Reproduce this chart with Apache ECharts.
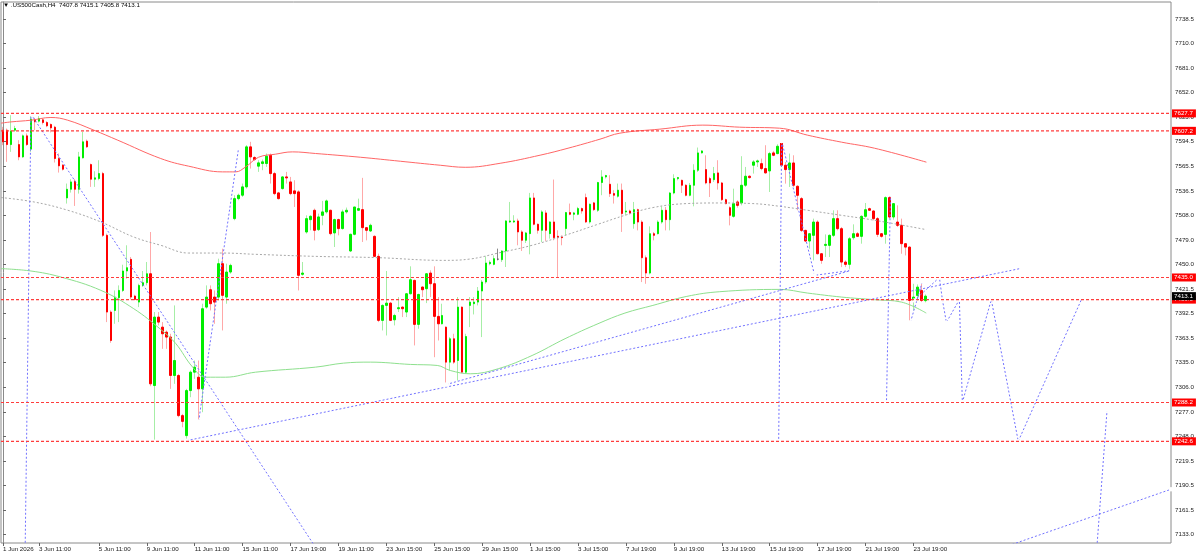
<!DOCTYPE html>
<html>
<head>
<meta charset="utf-8">
<script src="https://cdn.jsdelivr.net/npm/echarts@6.0.0/dist/echarts.min.js"></script>
<style>
html,body{margin:0;padding:0;background:#fff;}
#chart{width:1200px;height:555px;}
</style>
</head>
<body>
<div id="chart"></div>
<script>
// H4 candles, [open, close, low, high]
var ohlc = [
[7608.0,7594.3,7590.4,7611.9],[7608.0,7591.1,7570.8,7609.9],[7591.1,7606.8,7582.5,7625.6],[7608.0,7609.9,7606.0,7613.1],
[7591.1,7576.6,7572.7,7596.2],[7576.6,7601.3,7575.5,7602.9],[7601.3,7591.1,7589.6,7604.1],[7585.7,7620.9,7582.5,7625.6],
[7620.5,7617.8,7608.0,7622.5],[7618.6,7621.7,7617.0,7624.5],[7620.1,7617.0,7614.7,7621.7],[7617.0,7613.1,7611.5,7618.6],
[7614.7,7610.7,7605.3,7615.8],[7611.5,7574.7,7570.0,7613.1],[7574.7,7566.1,7558.2,7580.6],[7566.8,7562.1,7560.6,7568.4],
[7528.4,7538.6,7521.8,7545.3],[7538.6,7547.2,7534.7,7550.4],[7548.0,7538.6,7519.0,7550.4],[7538.6,7576.6,7533.5,7582.5],
[7575.5,7594.3,7574.7,7606.0],[7595.1,7588.4,7587.2,7597.0],[7567.6,7550.4,7541.4,7568.8],[7550.4,7552.0,7541.4,7559.8],
[7551.2,7557.0,7549.2,7572.7],[7557.0,7484.5,7482.6,7559.0],[7484.5,7394.4,7382.6,7486.5],[7394.4,7361.0,7358.3,7396.3],
[7396.3,7412.0,7380.6,7419.8],[7411.2,7419.8,7382.6,7425.7],[7419.8,7442.6,7417.9,7450.0],[7442.6,7446.5,7433.6,7472.8],
[7456.3,7412.0,7409.3,7459.0],[7413.2,7409.3,7408.1,7414.7],[7406.1,7425.7,7400.2,7427.7],[7425.7,7428.9,7423.8,7442.6],
[7428.9,7439.4,7425.7,7453.2],[7439.4,7310.1,7307.3,7488.4],[7308.1,7388.5,7244.6,7394.4],[7388.5,7382.6,7378.7,7394.4],
[7376.7,7368.9,7351.2,7382.6],[7370.8,7365.0,7351.2,7372.8],[7365.0,7319.9,7304.2,7368.9],[7319.9,7337.5,7310.1,7402.2],
[7319.9,7272.8,7270.9,7321.8],[7272.8,7266.0,7259.1,7274.8],[7249.3,7302.2,7243.4,7304.2],[7302.2,7323.8,7294.4,7325.8],
[7323.8,7329.7,7316.0,7337.5],[7317.9,7304.2,7266.0,7337.5],[7304.2,7398.3,7276.8,7404.2],[7400.2,7412.0,7398.3,7425.7],
[7420.6,7404.2,7396.3,7425.7],[7412.0,7406.1,7380.6,7419.8],[7412.0,7451.2,7408.1,7457.1],[7451.2,7414.0,7372.8,7468.8],
[7412.0,7441.4,7404.2,7451.2],[7441.4,7449.2,7439.4,7451.2],[7504.1,7527.6,7502.2,7531.6],[7527.6,7531.6,7525.7,7533.5],
[7531.6,7541.4,7529.6,7545.3],[7541.4,7588.4,7539.4,7590.4],[7588.4,7576.6,7562.9,7594.3],[7575.9,7573.5,7571.9,7577.4],
[7565.7,7569.6,7559.0,7572.7],[7568.8,7570.8,7561.0,7573.5],[7568.8,7577.4,7564.9,7580.6],[7578.6,7557.0,7545.3,7580.6],
[7557.0,7533.5,7531.6,7559.0],[7534.3,7527.6,7526.5,7535.5],[7539.4,7553.1,7538.2,7553.9],[7553.1,7551.9,7545.3,7559.0],
[7547.2,7533.5,7531.6,7553.1],[7536.7,7533.5,7517.8,7549.2],[7535.5,7437.5,7419.8,7537.4],[7438.7,7440.2,7437.1,7453.2],
[7488.4,7504.1,7486.5,7508.0],[7502.9,7506.9,7490.4,7508.0],[7513.9,7490.4,7478.6,7515.9],[7491.2,7506.1,7489.6,7510.0],
[7508.0,7512.0,7496.3,7524.9],[7512.0,7524.9,7510.0,7526.5],[7513.9,7486.5,7484.5,7514.7],[7487.3,7503.0,7470.8,7504.1],
[7503.0,7492.4,7484.5,7504.1],[7492.4,7512.0,7491.2,7514.7],[7512.0,7513.9,7510.0,7517.1],[7466.1,7485.7,7464.9,7486.5],
[7485.7,7517.8,7484.5,7517.8],[7513.9,7515.9,7513.1,7527.6],[7514.7,7493.5,7476.7,7552.0],[7493.5,7490.4,7478.6,7494.3],
[7489.6,7496.3,7488.4,7498.2],[7483.3,7459.8,7459.0,7484.5],[7459.8,7384.6,7382.6,7463.0],[7384.6,7402.2,7372.8,7403.4],
[7402.2,7404.9,7366.9,7442.6],[7404.9,7384.6,7383.8,7406.1],[7385.3,7390.4,7378.7,7392.4],[7398.3,7399.5,7394.4,7412.0],
[7400.2,7398.3,7388.5,7401.0],[7394.4,7415.9,7388.5,7416.7],[7415.9,7432.4,7415.1,7448.1],[7431.6,7379.9,7355.2,7432.4],
[7379.9,7415.1,7374.8,7415.9],[7423.8,7420.6,7412.0,7424.5],[7421.8,7439.4,7404.9,7440.2],[7440.2,7427.7,7412.0,7443.4],
[7427.7,7389.3,7341.4,7448.1],[7389.3,7380.6,7361.0,7412.0],[7380.6,7390.4,7379.9,7404.2],[7376.7,7335.6,7309.3,7377.5],
[7335.6,7363.0,7325.8,7365.0],[7363.0,7335.6,7333.6,7368.9],[7337.5,7400.2,7314.0,7412.0],[7400.2,7323.8,7322.6,7401.0],
[7323.8,7365.7,7321.8,7368.9],[7402.2,7406.1,7376.7,7412.0],[7404.2,7406.1,7391.6,7412.0],[7406.1,7419.1,7402.2,7423.8],
[7419.1,7429.7,7365.0,7432.0],[7429.7,7452.0,7427.7,7459.8],[7451.2,7452.8,7449.3,7455.1],[7450.4,7457.1,7449.3,7461.0],
[7456.5,7456.5,7455.1,7468.9],[7455.9,7466.1,7453.2,7466.9],[7466.1,7501.4,7447.3,7502.2],[7500.2,7501.4,7499.0,7523.7],
[7500.2,7501.4,7499.0,7508.1],[7501.4,7488.5,7472.8,7504.1],[7488.5,7478.7,7466.1,7490.4],[7478.7,7487.3,7475.5,7488.5],
[7486.5,7528.4,7462.2,7534.3],[7528.4,7497.5,7496.3,7534.3],[7497.5,7490.4,7486.5,7498.3],[7490.4,7512.0,7476.7,7513.9],
[7510.8,7490.4,7477.9,7513.9],[7486.5,7500.2,7480.6,7501.0],[7500.2,7481.8,7478.7,7550.0],[7483.4,7481.8,7435.5,7490.4],
[7482.6,7481.8,7472.8,7484.5],[7492.4,7511.2,7484.5,7512.0],[7511.2,7509.2,7508.1,7521.8],[7509.2,7510.8,7502.2,7512.0],
[7509.2,7515.9,7508.1,7517.9],[7515.9,7513.1,7510.0,7517.1],[7528.8,7500.2,7499.0,7533.5],[7500.2,7521.0,7498.3,7521.8],
[7522.6,7514.7,7513.1,7523.7],[7513.9,7546.5,7512.0,7547.3],[7546.5,7553.1,7531.6,7561.0],[7553.1,7554.7,7551.2,7555.5],
[7544.5,7533.5,7529.6,7555.1],[7533.5,7531.6,7521.8,7537.5],[7530.4,7537.5,7528.8,7545.3],[7537.5,7510.0,7488.5,7545.3],
[7511.9,7513.1,7508.0,7523.7],[7513.1,7510.7,7509.2,7514.6],[7498.2,7514.6,7492.3,7523.7],[7514.6,7500.1,7490.3,7515.8],
[7500.1,7458.2,7429.6,7502.1],[7458.2,7440.2,7427.6,7460.9],[7440.2,7486.4,7438.6,7495.0],[7486.4,7484.5,7478.6,7488.4],
[7486.4,7500.1,7485.6,7502.1],[7500.1,7513.9,7498.2,7518.6],[7513.9,7502.9,7490.3,7517.8],[7502.9,7534.2,7490.3,7535.4],
[7534.2,7551.1,7532.7,7556.2],[7551.1,7552.3,7549.1,7553.1],[7549.1,7543.3,7534.2,7549.9],[7543.3,7531.5,7530.3,7544.4],
[7531.5,7543.3,7530.3,7546.0],[7543.3,7560.9,7518.6,7568.0],[7560.9,7581.3,7558.9,7587.6],[7581.3,7583.6,7580.5,7584.4],
[7561.7,7546.0,7544.4,7578.5],[7551.1,7546.0,7529.5,7553.1],[7549.9,7557.0,7547.2,7564.8],[7557.8,7546.0,7538.2,7572.7],
[7546.0,7526.4,7524.8,7547.2],[7526.4,7521.7,7520.9,7527.6],[7517.0,7508.0,7496.2,7518.6],[7506.8,7521.7,7505.2,7539.3],
[7523.7,7519.7,7517.0,7525.6],[7522.5,7543.3,7519.7,7577.4],[7543.3,7553.9,7541.3,7564.8],[7553.9,7552.3,7551.1,7555.0],
[7566.8,7570.7,7557.0,7572.7],[7570.7,7571.9,7564.8,7573.4],[7568.7,7562.9,7560.9,7574.6],[7562.9,7557.8,7557.0,7590.3],
[7560.1,7580.5,7535.4,7582.5],[7581.3,7578.5,7577.4,7583.6],[7580.5,7589.1,7579.7,7591.5],[7593.0,7566.8,7564.8,7595.4],
[7566.8,7561.7,7545.2,7570.7],[7561.7,7569.5,7541.3,7580.5],[7569.5,7543.3,7541.3,7578.5],[7542.1,7531.5,7513.9,7543.3],
[7527.6,7490.3,7488.4,7529.5],[7490.3,7477.8,7476.6,7491.1],[7477.8,7486.4,7468.8,7487.2],[7484.5,7500.1,7455.1,7504.1],
[7500.1,7462.9,7462.1,7502.1],[7462.9,7455.1,7451.1,7463.7],[7472.7,7473.9,7459.0,7485.6],[7472.7,7484.5,7459.0,7485.6],
[7484.5,7504.1,7482.5,7513.9],[7504.1,7492.3,7490.3,7513.9],[7492.3,7453.1,7447.2,7494.3],[7453.1,7450.4,7447.2,7455.1],
[7450.4,7480.5,7443.3,7482.5],[7481.7,7486.4,7479.4,7497.4],[7486.4,7483.3,7482.5,7488.4],[7483.3,7506.8,7474.7,7508.0],
[7506.8,7514.6,7505.2,7522.5],[7515.8,7513.9,7513.1,7517.0],[7513.1,7504.1,7502.1,7513.9],[7504.1,7485.6,7482.5,7506.0],
[7486.4,7483.3,7481.7,7487.2],[7485.6,7528.8,7474.7,7530.3],[7528.8,7506.0,7504.1,7531.5],[7506.0,7521.7,7502.9,7522.5],
[7500.1,7496.2,7494.3,7519.7],[7496.2,7474.7,7462.9,7504.1],[7474.7,7470.7,7460.9,7475.4],[7470.7,7408.0,7382.5,7471.5],
[7408.0,7412.0,7396.3,7427.6],[7413.9,7423.7,7408.0,7426.8],[7419.8,7408.0,7406.1,7427.6],[7407.8,7413.1,7405.8,7415.1]
];

// moving averages, [bar index, price]
var maRed = [[-0.5,7616.2],[2,7617.7],[7,7619.7],[12,7622.9],[16.2,7619.7],[22.75,7608.0],[28.75,7596.2],[39.5,7574.7],
  [46.5,7565.7],[55,7559.0],[58.25,7559.0],[60.75,7564.8],[64,7576.2],[68.25,7579.8],[72.5,7582.5],[78.25,7580.6],
  [89.5,7576.2],[99.5,7571.5],[109.5,7566.8],[115.75,7564.4],[124.5,7569.1],[134.5,7578.6],[141.5,7586.8],[149.5,7597.4],
  [154.5,7604.5],[164.5,7609.2],[175.25,7613.9],[184.5,7611.5],[194.5,7610.3],[201.5,7602.1],[210,7593.9],[218.25,7586.8],[231.25,7570.4]];
var maGray = [[-0.5,7528.9],[7.75,7523.7],[16.25,7513.9],[24.5,7500.2],[32.75,7482.5],[39.5,7472.8],[46.5,7463.7],[55,7463.7],
  [63.25,7462.2],[78.25,7459.8],[93.75,7458.3],[110.25,7455.1],[117,7456.7],[124,7463.7],[132.5,7472.8],[140.75,7484.5],
  [149,7497.5],[155.75,7508.0],[162.75,7517.1],[171.25,7521.8],[179.5,7522.5],[187.75,7521.8],[194.5,7518.6],[201.5,7513.9],
  [210,7508.0],[218.25,7502.2],[231.2,7491.2]];
var maGreen = [[-0.5,7445.4],[7,7442.6],[14.5,7435.5],[24.5,7419.9],[32.75,7398.3],[39.5,7374.0],[43.25,7357.5],[47.5,7329.7],
  [50.75,7317.9],[55.75,7317.9],[63.25,7323.8],[78.25,7329.7],[85.25,7334.4],[92,7335.6],[102,7332.9],[108.75,7331.7],
  [112,7325.8],[117,7321.9],[124,7327.8],[132.5,7343.4],[140.75,7363.1],[149,7380.7],[155.75,7393.2],[162.75,7402.2],
  [171.25,7412.8],[179.5,7418.3],[194.5,7421.0],[201.5,7416.7],[210,7412.0],[218.25,7408.9],[225,7406.1],[231.2,7393.2]];

// hand drawn objects (trend lines, zigzags), [bar index, price]
var drawings = [
  [[5.5,7100],[7,7627]],
  [[7,7627],[80.8,7100]],
  [[49,7266],[59,7587]],
  [[46,7243.4],[255.25,7446]],
  [[111,7309.3],[212.5,7443.4]],
  [[195,7595.4],[203.25,7437.5],[212.5,7443.4]],
  [[195,7595.4],[194.25,7242.6]],
  [[222.25,7532.7],[221.25,7288.2]],
  [[227.25,7382.5],[230.25,7430.4]],
  [[228.25,7408.1],[234.5,7435],[235.25,7409],[236.25,7382.2],[239.5,7409],[240.25,7288.2],[247.5,7409],[254.25,7242.6],[270.25,7411]],
  [[273.65,7100],[276.5,7280]],
  [[239.5,7100],[292.5,7186.3]]
];

var levels = [7627.7, 7607.2, 7435.0, 7409.0, 7288.2, 7242.6];
var lastPrice = 7413.1;
var yTicks = [7133.0,7161.5,7190.5,7219.5,7248.0,7277.0,7306.0,7335.0,7363.5,7392.5,7421.5,7450.0,
  7479.0,7508.0,7536.5,7565.5,7594.5,7623.0,7652.0,7681.0,7710.0,7738.5];
var xTickIdx = [0,9,24,36,48,60,72,84,96,108,120,132,144,156,168,180,192,204,216,228];
var xTickText = ['1 Jun 2026','3 Jun 11:00','5 Jun 11:00','9 Jun 11:00','11 Jun 11:00','15 Jun 11:00','17 Jun 19:00',
  '19 Jun 11:00','23 Jun 15:00','25 Jun 15:00','29 Jun 15:00','1 Jul 15:00','3 Jul 15:00','7 Jul 19:00','9 Jul 19:00',
  '13 Jul 19:00','15 Jul 19:00','17 Jul 19:00','21 Jul 19:00','23 Jul 19:00'];

var numSlots = 293;
var cats = [];
for (var i = 0; i < numSlots; i++) {
  var k = xTickIdx.indexOf(i);
  cats.push(k >= 0 ? xTickText[k] : '');
}
function isTick(idx) { return xTickIdx.indexOf(idx) >= 0; }

// bodies only (no wicks) drawn over the full candles
var bodies = ohlc.map(function (d) {
  return [d[0], d[1], Math.min(d[0], d[1]), Math.max(d[0], d[1])];
});

var font = 'Liberation Sans, Arial, sans-serif';
var blue = '#7272ff';
var xEnd = numSlots - 0.5;

// price tag on the right edge of a horizontal line
function tag(bg) {
  return {
    show: true, distance: 1, formatter: function (p) { return p.value[1].toFixed(1); },
    backgroundColor: bg, color: '#fff', fontSize: 6.2, fontFamily: font, padding: [1, 3, 1, 2]
  };
}

var series = [
  {
    type: 'candlestick', xAxisIndex: 0, data: ohlc, barWidth: 1, z: 2,
    itemStyle: {color: '#a6eea6', color0: '#ffa8a8', borderColor: '#a6eea6', borderColor0: '#ffa8a8',
      borderColorDoji: '#888', borderWidth: 1}
  },
  {
    type: 'candlestick', xAxisIndex: 0, data: bodies, barWidth: 2, z: 3,
    itemStyle: {color: '#00ee00', color0: '#ff0000', borderColor: '#00ee00', borderColor0: '#ff0000',
      borderColorDoji: '#555', borderWidth: 1}
  },
  {type: 'line', xAxisIndex: 1, data: maRed, smooth: 0.4, symbol: 'none', z: 4,
    lineStyle: {color: '#ff6666', width: 1}},
  {type: 'line', xAxisIndex: 1, data: maGray, smooth: 0.4, symbol: 'none', z: 4,
    lineStyle: {color: '#a8a8a8', width: 1, type: [2, 2]}},
  {type: 'line', xAxisIndex: 1, data: maGreen, smooth: 0.4, symbol: 'none', z: 4,
    lineStyle: {color: '#8ee08e', width: 1}}
];
levels.forEach(function (v) {
  series.push({
    type: 'line', xAxisIndex: 1, data: [[-0.5, v], [xEnd, v]], symbol: 'none', z: 6, clip: false,
    lineStyle: {color: '#ff3c3c', width: 1.2, type: [3, 2]},
    endLabel: tag('#ff0000')
  });
});
series.push({
  type: 'line', xAxisIndex: 1, data: [[-0.5, lastPrice], [xEnd, lastPrice]], symbol: 'none', z: 7, clip: false,
  lineStyle: {color: 'rgba(0,0,0,0)', width: 0},
  endLabel: tag('#000000')
});
drawings.forEach(function (pts) {
  series.push({
    type: 'line', xAxisIndex: 1, data: pts, z: 5, clip: true,
    symbol: 'emptyCircle', symbolSize: 2.5,
    itemStyle: {color: '#ffffff', borderColor: '#8a8aff', borderWidth: 0.7},
    lineStyle: {color: blue, width: 1, type: [2, 2]}
  });
});

var chart = echarts.init(document.getElementById('chart'));
chart.setOption({
  animation: false,
  backgroundColor: '#ffffff',
  title: {
    text: '\u25BC .US500Cash,H4  7407.8 7415.1 7405.8 7413.1',
    left: 3, top: 2, padding: 0,
    textStyle: {fontSize: 6.2, fontWeight: 'normal', color: '#000', fontFamily: font}
  },
  grid: {left: 1, right: 29, top: 2, bottom: 12, show: true, borderColor: '#8a8a8a', borderWidth: 1},
  xAxis: [
    {
      type: 'category', data: cats, boundaryGap: true,
      axisLine: {show: false},
      axisTick: {show: true, interval: isTick, alignWithLabel: true, length: 3, lineStyle: {color: '#666'}},
      axisLabel: {interval: isTick, align: 'left', margin: 3, fontSize: 6.2, color: '#222', fontFamily: font},
      splitLine: {show: false}
    },
    {type: 'value', min: -0.5, max: xEnd, show: false}
  ],
  yAxis: {
    type: 'value', position: 'right', min: 7123.2, max: 7758.5,
    splitLine: {show: false},
    axisLine: {show: true, lineStyle: {color: '#8a8a8a'}},
    axisTick: {show: true, customValues: yTicks, length: 3, lineStyle: {color: '#666'}},
    axisLabel: {customValues: yTicks, margin: 4, fontSize: 6.2, color: '#222', fontFamily: font,
      formatter: function (v) { return v.toFixed(1); }}
  },
  series: series
});
</script>
</body>
</html>
